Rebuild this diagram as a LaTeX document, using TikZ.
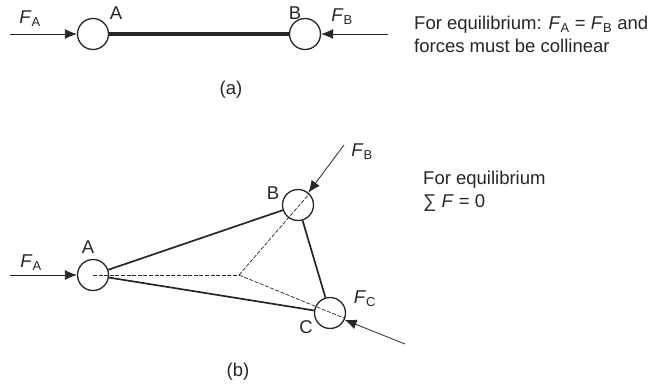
\documentclass[tikz,border=0pt]{standalone}
\usepackage{fontspec}
\setmainfont{Liberation Sans}
\usepackage{amsmath}
\usetikzlibrary{arrows.meta,calc}

\newcommand{\forcelab}[1]{\textit{F}\textsubscript{#1}}

\begin{document}
\begin{tikzpicture}[
  x=1pt, y=-1pt,
  every node/.style={font=\fontsize{18.5}{23}\selectfont, inner sep=0pt, text=black!85},
  pinjoint/.style={draw=black!85, circle, minimum size=31pt, line width=1.3pt},
  notetext/.style={align=left, anchor=north west},
  force/.style={-{Latex[length=12pt,width=10pt]}, line width=0.8pt, draw=black!85},
  strut/.style={line width=1.7pt, draw=black!85},
  thickstrut/.style={line width=3.2pt, draw=black!85},
  construct/.style={dashed, dash pattern=on 4pt off 1.6pt, line width=0.7pt, draw=black!85}
]
\useasboundingbox (0,0) rectangle (651,388);

% (a) two force member
\node[pinjoint] (a-A) at (93,34) {};
\node[pinjoint] (a-B) at (305,34) {};
\coordinate (a-in) at (10,34);
\coordinate (a-out) at (388,34);

\draw[thickstrut] (a-A) -- (a-B);
\draw[force] (a-in) -- (a-A);
\draw[force] (a-out) -- (a-B);

\node (a-lA) at (116,13) {A};
\node (a-lB) at (295,13) {B};
\node (a-fA) at (30,19) {\forcelab{A}};
\node (a-fB) at (342,17) {\forcelab{B}};
\node (a-cap) at (231,90) {(a)};
\node[notetext] (a-note) at (414,16) {For equilibrium: \forcelab{A} = \forcelab{B} and\\forces must be collinear};

% (b) three force member
\node[pinjoint] (b-A) at (93,275) {};
\node[pinjoint] (b-B) at (298,205) {};
\node[pinjoint] (b-C) at (330,313) {};
\coordinate (b-meet) at (239,275);
\coordinate (b-in) at (10,275);
\coordinate (b-Bout) at (344,145);
\coordinate (b-Cout) at (405,344);

\draw[strut] (b-A) -- (b-B);
\draw[strut] (b-A) -- (b-C);
\draw[strut] (b-B) -- (b-C);

\draw[construct] (b-A.center) -- (b-meet);
\draw[construct] (b-meet) -- (b-B.45);
\draw[construct] (b-meet) -- (b-C.-20);

\draw[force] (b-in) -- (b-A);
\draw[force] (b-Bout) -- (b-B.50);
\draw[force] (b-Cout) -- (b-C.-25);

\node (b-lA) at (88,247) {A};
\node (b-lB) at (273,193) {B};
\node (b-lC) at (306,327) {C};
\node (b-fA) at (31,263) {\forcelab{A}};
\node (b-fB) at (362,152) {\forcelab{B}};
\node (b-fC) at (365,299) {\forcelab{C}};
\node (b-cap) at (238,372) {(b)};
\node[notetext] (b-note) at (423,171) {For equilibrium\\∑ \textit{F} = 0};
\end{tikzpicture}
\end{document}
